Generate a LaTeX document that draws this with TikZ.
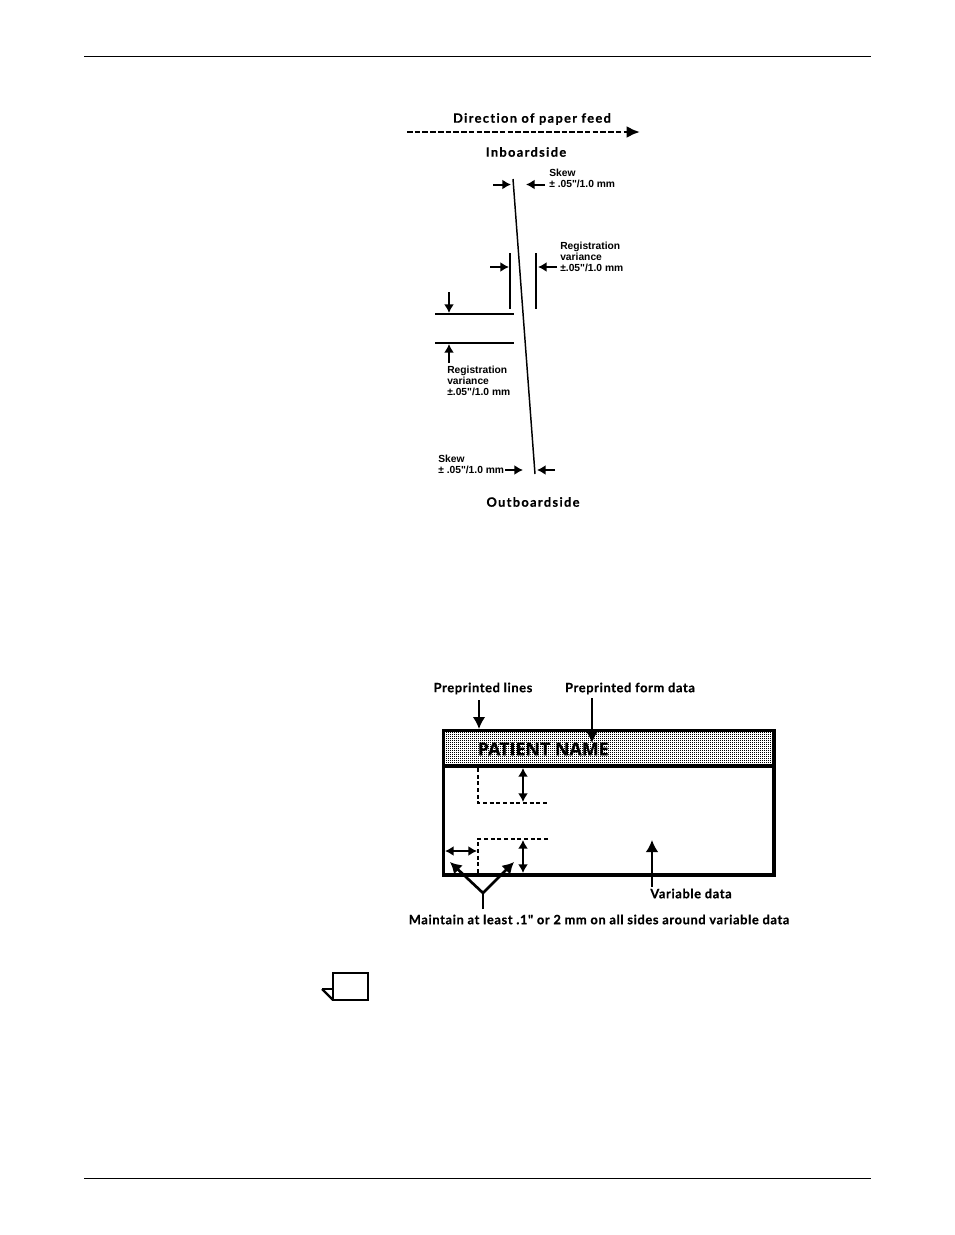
\documentclass[tikz,border=0pt]{standalone}
\usepackage{fontspec}
\usetikzlibrary{arrows.meta, calc, patterns}
\newfontfamily\headfont[LetterSpace=5,Ligatures=NoCommon,FakeBold=0.6]{Lato Bold}
\newfontfamily\topfont[LetterSpace=10.5,Ligatures=NoCommon,FakeBold=0.6]{Lato Bold}
\newfontfamily\labelfont{Liberation Sans Bold}
\newfontfamily\formfont[FakeBold=0.4]{Open Sans Bold}

\pgfdeclarepatternformonly{bandDots}{\pgfqpoint{0pt}{0pt}}{\pgfqpoint{0.75pt}{0.75pt}}{\pgfqpoint{1.5pt}{1.5pt}}{
    \pgfpathrectangle{\pgfqpoint{0pt}{0pt}}{\pgfqpoint{0.75pt}{0.75pt}}
    \pgfusepath{fill}
}

\tikzset{
    headlabel/.style={inner sep=0pt, font=\headfont\fontsize{9.6}{11}\selectfont},
    toplabel/.style={inner sep=0pt, font=\topfont\fontsize{9.6}{11}\selectfont},
    dimlabel/.style={inner sep=0pt, anchor=west, align=left, font=\labelfont\fontsize{7.7}{8.3}\selectfont},
    rule/.style={line width=0.75pt},
    thinline/.style={line width=1.1pt},
    dimarrow/.style={line width=1.5pt, -{Latex[length=6.5pt,width=7.5pt]}},
    dblarrow/.style={line width=1.5pt, {Latex[length=6.5pt,width=7.5pt]}-{Latex[length=6.5pt,width=7.5pt]}},
    bigarrow/.style={line width=1.6pt, -{Latex[length=9pt,width=9.5pt]}},
    forkarrow/.style={line width=2pt, -{Latex[length=8.5pt,width=9.5pt]}},
    dashline/.style={line width=0.8pt, dash pattern=on 3pt off 2pt},
    formbox/.style={line width=2.8pt, line join=miter},
}

\begin{document}
\begin{tikzpicture}[x=0.75pt, y=-0.75pt]
    \useasboundingbox (0,0) rectangle (954,1235);

    % page rules
    \coordinate (ruleTL) at (84,56);
    \coordinate (ruleTR) at (871,56);
    \coordinate (ruleBL) at (84,1178);
    \coordinate (ruleBR) at (871,1178);
    \draw[rule] (ruleTL) -- (ruleTR);
    \draw[rule] (ruleBL) -- (ruleBR);

    % feed direction
    \node[toplabel] (feed) at (532,119) {Direction of paper feed};
    \node[toplabel] (inboard) at (526,152) {Inboardside};
    \node[toplabel] (outboard) at (533,502) {Outboardside};
    \coordinate (feedL) at (407,132);
    \coordinate (feedR) at (640,132);
    \draw[line width=2pt, dash pattern=on 4.2pt off 1.6pt, -{Latex[length=10pt,width=9pt]}] (feedL) -- (feedR);

    % skew line
    \coordinate (skewT) at (513,179);
    \coordinate (skewB) at (535,474);
    \draw[thinline] (skewT) -- (skewB);

    \node[dimlabel] (skewtop) at (549,178.5) {Skew\\± .05"/1.0 mm};
    \node[dimlabel] (skewbot) at (438,464.5) {Skew\\± .05"/1.0 mm};
    \node[dimlabel] (regright) at (560,257) {Registration\\variance\\±.05"/1.0 mm};
    \node[dimlabel] (regleft) at (447,381) {Registration\\variance\\±.05"/1.0 mm};

    \coordinate (a1) at (493,184.5);  \coordinate (a2) at (511,184.5);
    \coordinate (b1) at (545,184.5);  \coordinate (b2) at (526,184.5);
    \coordinate (c1) at (490,267);    \coordinate (c2) at (509,267);
    \coordinate (d1) at (557,267);    \coordinate (d2) at (538,267);
    \coordinate (e1) at (449,292);    \coordinate (e2) at (449,313);
    \coordinate (f1) at (449,363);    \coordinate (f2) at (449,344);
    \coordinate (g1) at (505,470);    \coordinate (g2) at (523,470);
    \coordinate (h1) at (555,470);    \coordinate (h2) at (537,470);
    \draw[dimarrow] (a1) -- (a2);
    \draw[dimarrow] (b1) -- (b2);
    \draw[dimarrow] (c1) -- (c2);
    \draw[dimarrow] (d1) -- (d2);
    \draw[dimarrow] (e1) -- (e2);
    \draw[dimarrow] (f1) -- (f2);
    \draw[dimarrow] (g1) -- (g2);
    \draw[dimarrow] (h1) -- (h2);

    % registration lines
    \coordinate (v1T) at (510,253);  \coordinate (v1B) at (510,309);
    \coordinate (v2T) at (536,253);  \coordinate (v2B) at (536,309);
    \coordinate (h1L) at (435,314);  \coordinate (h1R) at (514,314);
    \coordinate (h2L) at (435,343);  \coordinate (h2R) at (514,343);
    \draw[thinline] (v1T) -- (v1B);
    \draw[thinline] (v2T) -- (v2B);
    \draw[thinline] (h1L) -- (h1R);
    \draw[thinline] (h2L) -- (h2R);

    % form
    \fill[pattern=bandDots, pattern color=black] (443.5,730.5) rectangle (774,766);
    \draw[formbox] (443.5,730.5) rectangle (774,875);
    \coordinate (divL) at (443.5,766);
    \coordinate (divR) at (774,766);
    \draw[formbox] (divL) -- (divR);
    \node[inner sep=0pt, anchor=west, font=\formfont\fontsize{13.4}{14}\selectfont] (patient) at (477.5,749) {PATIENT NAME};

    \node[headlabel] (linesL) at (483,688.5) {Preprinted lines};
    \node[headlabel] (dataL) at (630,688.5) {Preprinted form data};
    \node[headlabel] (varL) at (691,893.5) {Variable data};
    \node[headlabel] (maintain) at (599,919.5) {Maintain at least .1" or 2 mm on all sides around variable data};

    \coordinate (p1) at (479,700);  \coordinate (p2) at (479,729);
    \coordinate (q1) at (592,698);  \coordinate (q2) at (592,743);
    \coordinate (r1) at (652,887);  \coordinate (r2) at (652,840);
    \draw[bigarrow] (p1) -- (p2);
    \draw[bigarrow] (q1) -- (q2);
    \draw[bigarrow] (r1) -- (r2);

    % dashed margins
    \coordinate (m1) at (478,768);  \coordinate (m2) at (478,803);  \coordinate (m3) at (548,803);
    \coordinate (n1) at (548,839);  \coordinate (n2) at (478,839);  \coordinate (n3) at (478,873);
    \draw[dashline] (m1) -- (m2) -- (m3);
    \draw[dashline] (n1) -- (n2) -- (n3);

    \coordinate (s1) at (523,768);  \coordinate (s2) at (523,802);
    \coordinate (t1) at (523,840);  \coordinate (t2) at (523,873);
    \coordinate (u1) at (445,851);  \coordinate (u2) at (477,851);
    \draw[dblarrow] (s1) -- (s2);
    \draw[dblarrow] (t1) -- (t2);
    \draw[dblarrow] (u1) -- (u2);

    % maintain fork
    \coordinate (forkB) at (483,909);
    \coordinate (forkM) at (483,893);
    \coordinate (forkL) at (450,862);
    \coordinate (forkR) at (514,862);
    \draw[line width=2pt] (forkB) -- (forkM);
    \draw[forkarrow] (forkM) -- (forkL);
    \draw[forkarrow] (forkM) -- (forkR);

    % note icon
    \coordinate (noteA) at (333,973);
    \coordinate (noteB) at (368,1000);
    \coordinate (noteF) at (322,989);
    \coordinate (noteC) at (333,989);
    \coordinate (noteD) at (333,1000);
    \draw[line width=1.5pt] (noteA) rectangle (noteB);
    \draw[line width=0.8pt] (noteF) -- (noteC);
    \draw[line width=1.8pt] (noteF) -- (noteD);
\end{tikzpicture}
\end{document}
